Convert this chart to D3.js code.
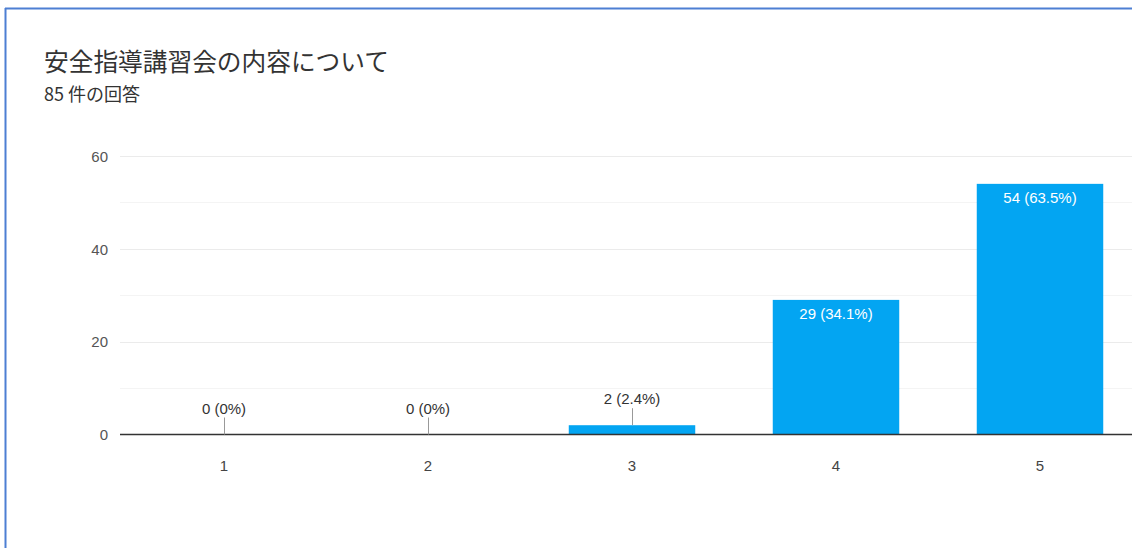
<!DOCTYPE html>
<html><head><meta charset="utf-8">
<script src="https://cdn.jsdelivr.net/npm/d3@7"></script>
<style>
html,body{margin:0;padding:0;background:#fff;}
svg{display:block;font-family:Roboto,"Noto Sans CJK JP",Arial,sans-serif;}
</style></head>
<body>
<svg id="c" width="1132" height="548"></svg>
<script>
const title = "安全指導講習会の内容について";
const subtitle = "85 件の回答";
const categories = ["1","2","3","4","5"];
const counts = [0,0,2,29,54];
const percents = ["0%","0%","2.4%","34.1%","63.5%"];
const yTicks = [0,20,40,60];
const yMinorTicks = [10,30,50];

const svg = d3.select("#c");
// frame
svg.append("line").attr("x1",5).attr("x2",1132).attr("y1",8.5).attr("y2",8.5).attr("stroke","#4d7fd3").attr("stroke-width",2);
svg.append("line").attr("x1",5.5).attr("x2",5.5).attr("y1",8).attr("y2",548).attr("stroke","#4d7fd3").attr("stroke-width",2);

svg.append("text").attr("x",44).attr("y",71).attr("font-size",24.7).attr("fill","#333")
  .attr("font-family","'Noto Sans CJK JP',sans-serif").text(title);
svg.append("text").attr("x",44).attr("y",101).attr("font-size",18).attr("fill","#333")
  .attr("font-family","'Noto Sans CJK JP',sans-serif").text(subtitle);

const pLeft = 122, pRight = 1142, pTop = 156, pBottom = 434.5;
const x = d3.scaleBand().domain(categories).range([pLeft, pRight]).paddingInner(0.38).paddingOuter(0.19);
const y = d3.scaleLinear().domain([0,60]).range([pBottom, pTop]);

const g = svg.append("g");
g.selectAll(".minor").data(yMinorTicks).join("line")
  .attr("x1",120).attr("x2",1132).attr("y1",d=>Math.round(y(d))+0.5).attr("y2",d=>Math.round(y(d))+0.5)
  .attr("stroke","#f4f4f4").attr("stroke-width",1);
g.selectAll(".major").data(yTicks.filter(d=>d>0)).join("line")
  .attr("x1",120).attr("x2",1132).attr("y1",d=>Math.round(y(d))+0.5).attr("y2",d=>Math.round(y(d))+0.5)
  .attr("stroke","#ebebeb").attr("stroke-width",1);

const yAxis = d3.axisLeft(y).tickValues(yTicks).tickSize(0).tickPadding(0);
const ya = svg.append("g").attr("transform",`translate(108,0)`).call(yAxis);
ya.select(".domain").remove();
ya.selectAll("text").attr("font-size",15).attr("fill","#555").attr("dy","0.35em").attr("font-family","Arial,'Liberation Sans',sans-serif");

const data = categories.map((c,i)=>({c, v:counts[i], p:percents[i]}));
g.selectAll("rect.bar").data(data.filter(d=>d.v>0)).join("rect").attr("class","bar")
  .attr("x",d=>x(d.c)).attr("width",x.bandwidth())
  .attr("y",d=>y(d.v)).attr("height",d=>pBottom-y(d.v)).attr("fill","#03a5f2");

// baseline
svg.append("line").attr("x1",120).attr("x2",1132).attr("y1",pBottom).attr("y2",pBottom).attr("stroke","#333").attr("stroke-width",1.5);

const xAxis = d3.axisBottom(x).tickSize(0).tickPadding(0);
const xa = svg.append("g").attr("transform",`translate(0,${pBottom})`).call(xAxis);
xa.select(".domain").remove();
xa.selectAll("text").attr("font-size",15).attr("fill","#444").attr("dy","0").attr("y",36).attr("font-family","Arial,'Liberation Sans',sans-serif");

// labels
data.forEach(d=>{
  const cx = x(d.c)+x.bandwidth()/2;
  const label = `${d.v} (${d.p})`;
  const inside = (pBottom - y(d.v)) > 40;
  if(inside){
    svg.append("text").attr("x",cx).attr("y",y(d.v)+19).attr("text-anchor","middle")
      .attr("font-size",15).attr("fill","#fff").attr("font-family","Arial,'Liberation Sans',sans-serif").text(label);
  } else {
    const ty = y(d.v);
    svg.append("line").attr("x1",cx+0.5).attr("x2",cx+0.5).attr("y1",ty-17).attr("y2",ty).attr("stroke","#999").attr("stroke-width",1);
    svg.append("text").attr("x",cx).attr("y",ty-21).attr("text-anchor","middle")
      .attr("font-size",15).attr("fill","#333").attr("font-family","Arial,'Liberation Sans',sans-serif").text(label);
  }
});
</script>
</body></html>
